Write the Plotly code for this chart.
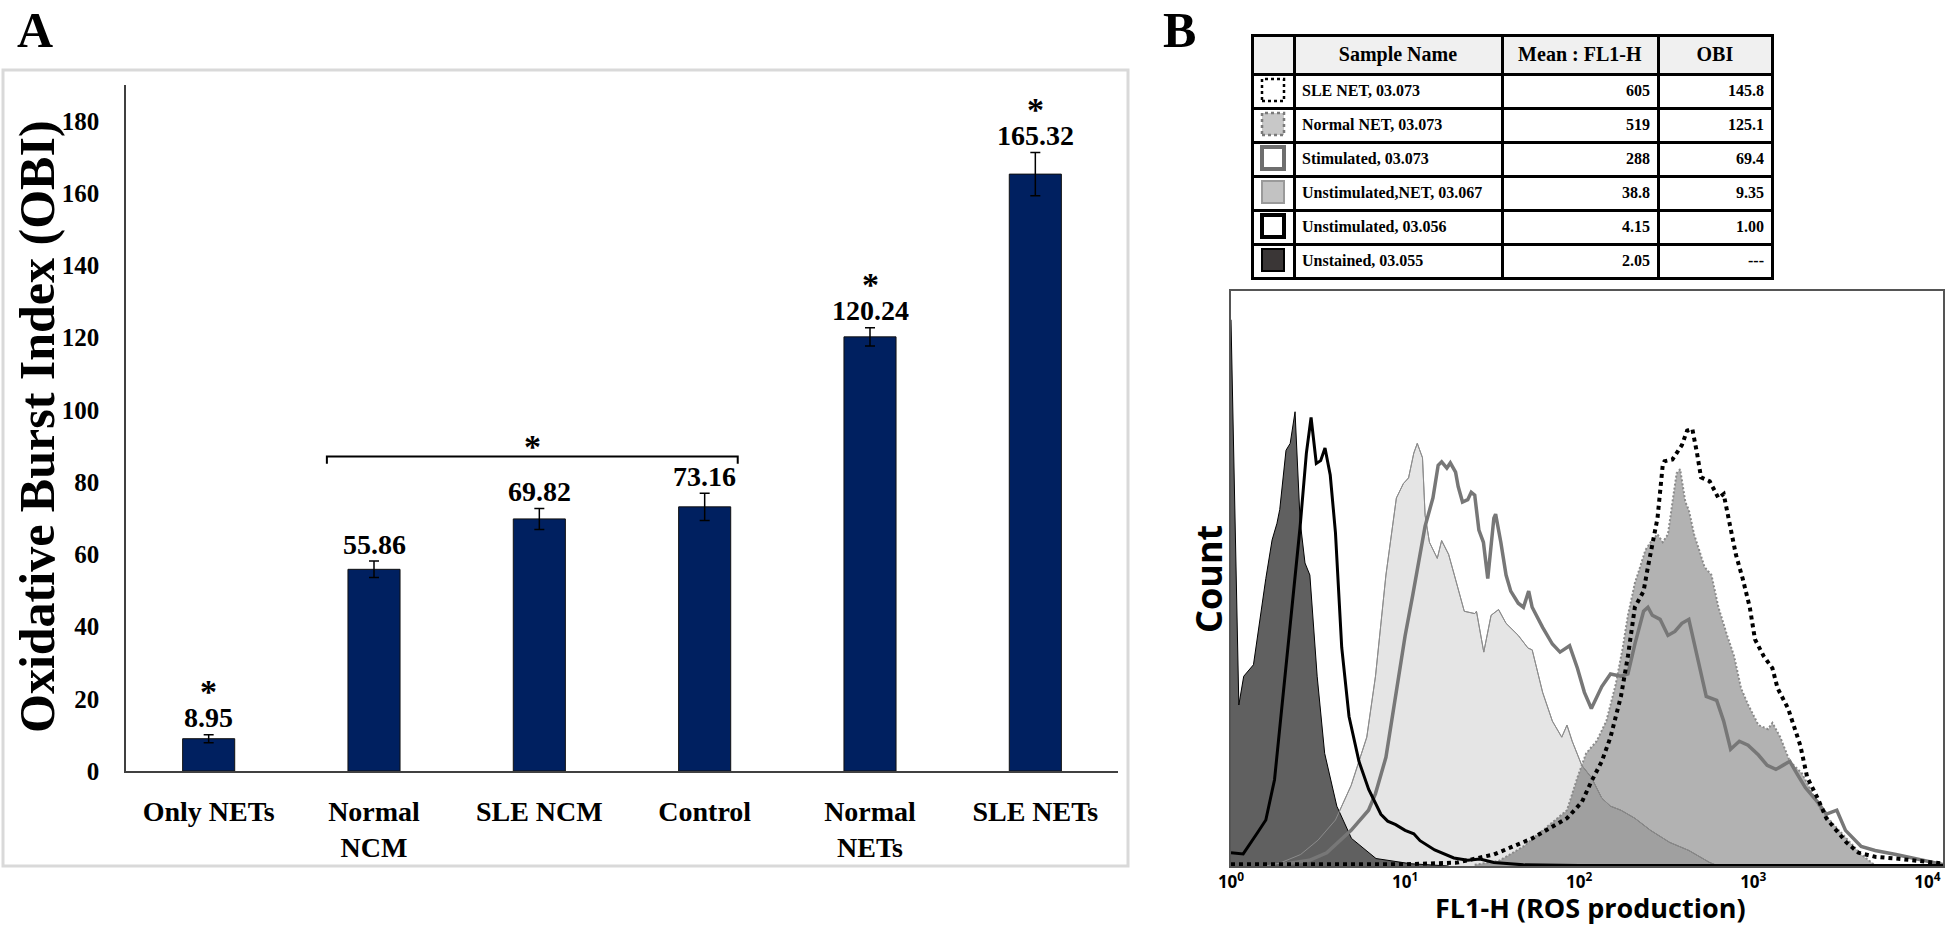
import numpy as np
import plotly.graph_objects as go

# ---------------- data : panel A ----------------
categories = ["Only NETs", "Normal NCM", "SLE NCM", "Control", "Normal NETs", "SLE NETs"]
tick_labels = ["Only NETs", "Normal<br>NCM", "SLE NCM", "Control", "Normal<br>NETs", "SLE NETs"]
obi_mean = [8.95, 55.86, 69.82, 73.16, 120.24, 165.32]
obi_err = [1.1, 2.3, 2.9, 3.8, 2.5, 6.0]
significant = [True, False, False, False, True, True]
y_ticks = [0, 20, 40, 60, 80, 100, 120, 140, 160, 180]
bracket_groups = ["Normal NCM", "Control"]
bracket_level = 87.1

# ---------------- data : panel B table ----------------
table_header = ["", "Sample Name", "Mean : FL1-H", "OBI"]
sample_names = ["SLE NET, 03.073", "Normal NET, 03.073", "Stimulated, 03.073",
                "Unstimulated,NET, 03.067", "Unstimulated, 03.056", "Unstained, 03.055"]
mean_fl1h = ["605", "519", "288", "38.8", "4.15", "2.05"]
obi_values = ["145.8", "125.1", "69.4", "9.35", "1.00", "---"]

# ---------------- data : panel B histograms (log10 FL1-H, count %) ----------------
unstained_log = [0.0, 0.045, 0.073, 0.129, 0.2, 0.236, 0.264, 0.28, 0.316, 0.34, 0.368, 0.385,
                 0.397, 0.425, 0.453, 0.495, 0.538, 0.608, 0.692, 0.833, 1.03, 1.25]
unstained_cnt = [95, 28, 33, 35, 50, 56.7, 59.6, 62, 72.3, 73.5, 79, 68,
                 60, 52.7, 50.6, 33, 19.6, 10.4, 4.8, 1.3, 0.4, 0]

unstim_log = [0.0, 0.07, 0.15, 0.2, 0.25, 0.298, 0.355, 0.397, 0.433, 0.46, 0.49, 0.515, 0.54,
              0.57, 0.6, 0.636, 0.678, 0.735, 0.791, 0.861, 0.9, 0.946, 1.0, 1.05, 1.086, 1.17,
              1.28, 1.36, 1.43, 1.51, 1.68, 2.0, 3.0, 4.1]
unstim_cnt = [2.3, 2.1, 5.7, 8, 15, 29.5, 47, 59, 71.8, 78, 70, 70.5, 72.7,
              68, 58, 38, 26, 18.2, 13.3, 9, 7.8, 7.2, 6.2, 5.6, 4.4, 2.8,
              1.4, 1.0, 1.2, 0.6, 0.2, 0.1, 0.1, 0.1]

unstimnet_log = [0.2, 0.28, 0.4, 0.5, 0.6, 0.69, 0.78, 0.83, 0.89, 0.95, 0.99, 1.02, 1.05, 1.07,
                 1.10, 1.115, 1.14, 1.185, 1.21, 1.25, 1.283, 1.34, 1.40, 1.41, 1.452, 1.494,
                 1.537, 1.58, 1.65, 1.706, 1.73, 1.79, 1.846, 1.90, 1.93, 1.96, 2.015, 2.07,
                 2.13, 2.18, 2.24, 2.32, 2.41, 2.52, 2.63, 2.75, 2.8]
unstimnet_cnt = [0, 0.5, 2, 4.5, 8, 14, 22.4, 33, 50.6, 64, 66.5, 67.5, 71.8, 73.5,
                 71, 61, 56.3, 53.5, 56.6, 54.2, 50.6, 44.3, 43.9, 44.3, 37.2, 43.6,
                 44.6, 42.2, 40.1, 37.9, 37.6, 30.2, 25.2, 22.4, 24.5, 21.7, 17.5, 15.4,
                 11.8, 10.4, 9.7, 8.3, 6.2, 4.1, 2.7, 0.6, 0]

stim_log = [0.3, 0.45, 0.55, 0.69, 0.79, 0.83, 0.89, 0.946, 1.0, 1.044, 1.086, 1.115, 1.16,
            1.19, 1.21, 1.24, 1.26, 1.29, 1.305, 1.33, 1.36, 1.38, 1.40, 1.424, 1.45, 1.475,
            1.51, 1.52, 1.55, 1.58, 1.607, 1.65, 1.68, 1.71, 1.73, 1.79, 1.846, 1.89, 1.945,
            1.99, 2.03, 2.07, 2.13, 2.18, 2.24, 2.28, 2.32, 2.37, 2.395, 2.42, 2.465, 2.51,
            2.55, 2.59, 2.63, 2.68, 2.73, 2.79, 2.83, 2.87, 2.92, 2.97, 3.03, 3.08, 3.13,
            3.17, 3.21, 3.25, 3.30, 3.37, 3.42, 3.48, 3.53, 3.62, 3.70, 3.82, 3.93, 4.04, 4.1]
stim_cnt = [0.3, 1.0, 2.3, 6.2, 9.7, 12.6, 18.9, 29.5, 40, 47.1, 54.2, 59.1, 64,
            69.7, 70.3, 69.2, 70.1, 68.5, 66, 63.3, 63.7, 65, 64.5, 58.4, 56.3, 50,
            60.5, 61.2, 56.3, 50.6, 47.8, 45.7, 45, 47.8, 45, 41.5, 38.6, 37.2, 38.3,
            34.4, 30.2, 27.4, 31.2, 33.4, 33, 33.4, 38.6, 44.3, 45, 43.6, 42.9, 40.1,
            40.8, 42.2, 42.9, 36.5, 29.5, 28.8, 25.2, 20.3, 21.7, 21, 19.3, 17.5, 16.8,
            17.5, 18.2, 16.1, 13.6, 11.1, 9.0, 9.7, 6.2, 3.4, 2.7, 2.0, 1.3, 0.6, 0.2]

normnet_log = [1.40, 1.54, 1.68, 1.85, 1.93, 1.99, 2.04, 2.10, 2.156, 2.21, 2.25, 2.28, 2.32,
               2.35, 2.38, 2.41, 2.45, 2.48, 2.51, 2.536, 2.56, 2.58, 2.61, 2.63, 2.66, 2.69,
               2.72, 2.76, 2.80, 2.85, 2.89, 2.93, 2.97, 3.03, 3.085, 3.11, 3.155, 3.21, 3.28,
               3.34, 3.39, 3.45, 3.535, 3.62, 3.68, 3.70]
normnet_cnt = [0.2, 0.9, 3.4, 7.6, 9.7, 15.4, 19.6, 21.7, 25.2, 31.6, 37.9, 43.6, 49.2,
               52, 54.9, 56.3, 57.7, 56.3, 57.7, 63.3, 68.3, 69, 63.3, 61.9, 57.7, 54.9,
               52, 50.6, 45, 40.1, 36.5, 30.9, 28.1, 24.5, 23.8, 24.9, 22.4, 18.2, 16.1,
               12.6, 9.7, 7.6, 4.8, 2.0, 0.6, 0]

slenet_log = [0.0, 0.5, 1.0, 1.3, 1.40, 1.51, 1.62, 1.73, 1.85, 1.93, 2.015, 2.07, 2.13, 2.18,
              2.24, 2.28, 2.32, 2.37, 2.395, 2.42, 2.45, 2.48, 2.49, 2.536, 2.56, 2.59, 2.62,
              2.65, 2.677, 2.70, 2.75, 2.79, 2.80, 2.83, 2.86, 2.90, 2.94, 2.98, 3.01, 3.06,
              3.11, 3.14, 3.20, 3.24, 3.27, 3.31, 3.37, 3.42, 3.48, 3.535, 3.605, 3.70, 3.82,
              3.93, 4.04, 4.1]
slenet_cnt = [0.3, 0.3, 0.3, 0.6, 1.3, 2.0, 3.4, 4.8, 6.9, 8.3, 11.1, 14.7, 18.2, 22.4,
              29.5, 36.5, 45, 47.8, 52, 56.3, 60.5, 69.7, 70.4, 70.7, 71.8, 73.2, 75.7,
              76, 71.8, 67.6, 66.9, 64.7, 64, 64.7, 60.5, 54.2, 49.9, 45, 39.4, 36.5,
              34.4, 30.9, 27.4, 23.8, 21, 15.4, 11.8, 8.3, 6.2, 4.1, 2.3, 1.6, 1.3,
              0.9, 0.6, 0.4]

decade_ticks = [1, 10, 100, 1000, 10000]
decade_text = ["10<sup>0</sup>", "10<sup>1</sup>", "10<sup>2</sup>", "10<sup>3</sup>", "10<sup>4</sup>"]

# ---------------- layout helpers ----------------
W, H = 1946, 927
def fx(p):
    return p / W
def fy(p):
    return 1 - p / H

SERIF = "Liberation Serif"
SANS = "Open Sans"

fig = go.Figure()

# ---------------- panel A ----------------
pos = np.arange(len(categories))
fig.add_trace(go.Bar(
    x=pos, y=obi_mean, width=0.315,
    marker=dict(color="#002060", line=dict(color="#111111", width=1)),
    error_y=dict(type="data", array=obi_err, color="black", thickness=1.5, width=5),
    xaxis="x", yaxis="y", showlegend=False, hoverinfo="skip"))

i0 = categories.index(bracket_groups[0])
i1 = categories.index(bracket_groups[1])
bx0, bx1 = i0 - 0.285, i1 + 0.2
fig.add_trace(go.Scatter(
    x=[bx0, bx0, bx1, bx1], y=[bracket_level - 2, bracket_level, bracket_level, bracket_level - 2],
    mode="lines", line=dict(color="black", width=2), xaxis="x", yaxis="y",
    showlegend=False, hoverinfo="skip"))

annotations = []
for i, (v, e, s) in enumerate(zip(obi_mean, obi_err, significant)):
    annotations.append(dict(x=i, y=v + e, xref="x", yref="y", text=f"{v:.2f}", showarrow=False,
                            xanchor="center", yanchor="middle", yshift=17,
                            font=dict(family=SERIF, size=28, color="black", weight="bold")))
    if s:
        annotations.append(dict(x=i, y=v + e, xref="x", yref="y", text="*", showarrow=False,
                                xanchor="center", yanchor="middle", yshift=43,
                                font=dict(family=SERIF, size=34, color="black", weight="bold")))
annotations.append(dict(x=(i0 + i1) / 2 - 0.04, y=bracket_level, xref="x", yref="y", text="*",
                        showarrow=False, xanchor="center", yanchor="middle", yshift=10,
                        font=dict(family=SERIF, size=34, color="black", weight="bold")))

annotations.append(dict(x=fx(37), y=fy(427), xref="paper", yref="paper",
                        text="Oxidative Burst Index (OBI)", textangle=-90, showarrow=False,
                        xanchor="center", yanchor="middle",
                        font=dict(family=SERIF, size=50, color="black", weight="bold")))
annotations.append(dict(x=fx(35), y=1, xref="paper", yref="paper", text="A", showarrow=False,
                        xanchor="center", yanchor="top",
                        font=dict(family=SERIF, size=50, color="black", weight="bold")))
annotations.append(dict(x=fx(1179), y=1, xref="paper", yref="paper", text="B", showarrow=False,
                        xanchor="center", yanchor="top",
                        font=dict(family=SERIF, size=50, color="black", weight="bold")))

shapes = [dict(type="rect", xref="paper", yref="paper", x0=fx(3), x1=fx(1128), y0=fy(866), y1=fy(70),
               line=dict(color="#d9d9d9", width=3), fillcolor="rgba(0,0,0,0)", layer="below")]

# ---------------- panel B table ----------------
T_LEFT, T_RIGHT, T_TOP = 1252, 1772, 35
HEAD_H, ROW_H = 38, 34
col_w = [42, 208, 156, 114]
fig.add_trace(go.Table(
    domain=dict(x=[fx(T_LEFT), fx(T_RIGHT)], y=[fy(T_TOP + HEAD_H + ROW_H * 6 + 8), fy(T_TOP)]),
    columnwidth=col_w,
    header=dict(values=[f"<b>{h}</b>" for h in table_header], height=HEAD_H,
                fill_color="#f0f0f0", line=dict(color="black", width=3), align="center",
                font=dict(family=SERIF, size=20, color="black")),
    cells=dict(values=[[""] * len(sample_names),
                       [f"<b>{s}</b>" for s in sample_names],
                       [f"<b>{m}</b>" for m in mean_fl1h],
                       [f"<b>{o}</b>" for o in obi_values]],
               height=ROW_H, fill_color="white", line=dict(color="black", width=3),
               align=["center", "left", "right", "right"],
               font=dict(family=SERIF, size=16, color="black"))))

swatch_styles = [
    dict(fill="white", color="black", width=2.5, dash="dot"),
    dict(fill="#c8c8c8", color="#7a7a7a", width=2.5, dash="dot"),
    dict(fill="white", color="#6e6e6e", width=4, dash="solid"),
    dict(fill="#c2c2c2", color="#9a9a9a", width=2, dash="solid"),
    dict(fill="white", color="black", width=4, dash="solid"),
    dict(fill="#3a3636", color="black", width=2, dash="solid"),
]
for r, st in enumerate(swatch_styles):
    cy = T_TOP + HEAD_H + ROW_H * r + ROW_H / 2
    cx = T_LEFT + col_w[0] / 2
    shapes.append(dict(type="rect", xref="paper", yref="paper",
                       x0=fx(cx - 11), x1=fx(cx + 11), y0=fy(cy + 11), y1=fy(cy - 11),
                       fillcolor=st["fill"], line=dict(color=st["color"], width=st["width"], dash=st["dash"]),
                       layer="above"))

# ---------------- panel B histograms ----------------
def lin(v):
    return 10 ** np.array(v)

hist_common = dict(xaxis="x2", yaxis="y2", showlegend=False, hoverinfo="skip", mode="lines")
fig.add_trace(go.Scatter(x=lin(unstimnet_log), y=unstimnet_cnt, fill="tozeroy",
                         fillcolor="rgba(0,0,0,0.10)", line=dict(color="#8c8c8c", width=1), **hist_common))
fig.add_trace(go.Scatter(x=lin(normnet_log), y=normnet_cnt, fill="tozeroy",
                         fillcolor="rgba(0,0,0,0.30)", line=dict(color="#8a8a8a", width=2, dash="2px,2px"),
                         **hist_common))
fig.add_trace(go.Scatter(x=lin(unstained_log), y=unstained_cnt, fill="tozeroy",
                         fillcolor="#606060", line=dict(color="black", width=1), **hist_common))
fig.add_trace(go.Scatter(x=lin(unstimnet_log), y=unstimnet_cnt,
                         line=dict(color="#8c8c8c", width=1), **hist_common))
fig.add_trace(go.Scatter(x=lin(stim_log), y=stim_cnt, line=dict(color="#777777", width=3.5), **hist_common))
fig.add_trace(go.Scatter(x=lin(unstim_log), y=unstim_cnt, line=dict(color="black", width=3), **hist_common))
fig.add_trace(go.Scatter(x=lin(slenet_log), y=slenet_cnt,
                         line=dict(color="black", width=4, dash="4px,4px"), **hist_common))

annotations.append(dict(x=fx(1590), y=fy(907), xref="paper", yref="paper", text="FL1-H (ROS production)",
                        showarrow=False, xanchor="center", yanchor="middle",
                        font=dict(family=SANS, size=27, color="black", weight="bold")))
annotations.append(dict(x=fx(1208), y=fy(579), xref="paper", yref="paper", text="Count", textangle=-90,
                        showarrow=False, xanchor="center", yanchor="middle",
                        font=dict(family=SANS, size=36, color="black", weight="bold")))

fig.update_layout(
    width=W, height=H, margin=dict(l=0, r=0, t=0, b=0, autoexpand=False),
    paper_bgcolor="white", plot_bgcolor="white",
    xaxis=dict(domain=[fx(126), fx(1118)], range=[-0.5, 5.5], anchor="y", automargin=False,
               tickmode="array", tickvals=list(pos), ticktext=tick_labels,
               tickfont=dict(family=SERIF, size=28, color="black", weight="bold"),
               showline=True, linecolor="#404040", linewidth=2, ticks="",
               showgrid=False, zeroline=False, ticklabelstandoff=14),
    yaxis=dict(domain=[fy(771), fy(85)], range=[0, 190], anchor="x", automargin=False,
               tickmode="array", tickvals=y_ticks,
               tickfont=dict(family=SERIF, size=25, color="black", weight="bold"),
               showline=True, linecolor="#404040", linewidth=1.5, ticks="",
               showgrid=False, zeroline=False, ticklabelstandoff=20),
    xaxis2=dict(domain=[fx(1231), fx(1943)], type="log", range=[0, 4.09], anchor="y2", automargin=False,
                tickmode="array", tickvals=decade_ticks, ticktext=decade_text,
                tickfont=dict(family=SANS, size=17, color="black", weight="bold"),
                showline=True, mirror=True, linecolor="#555555", linewidth=2, ticks="",
                showgrid=False, zeroline=False, ticklabelstandoff=0),
    yaxis2=dict(domain=[fy(866), fy(291)], range=[0, 100], anchor="x2", automargin=False,
                showticklabels=False, showline=True, mirror=True, linecolor="#555555",
                linewidth=2, ticks="", showgrid=False, zeroline=False),
    annotations=annotations, shapes=shapes,
)

fig.write_html("out.html", include_plotlyjs=True, config={"displayModeBar": False},
               post_script="document.body.style.margin='0px';document.body.style.overflow='hidden';")
